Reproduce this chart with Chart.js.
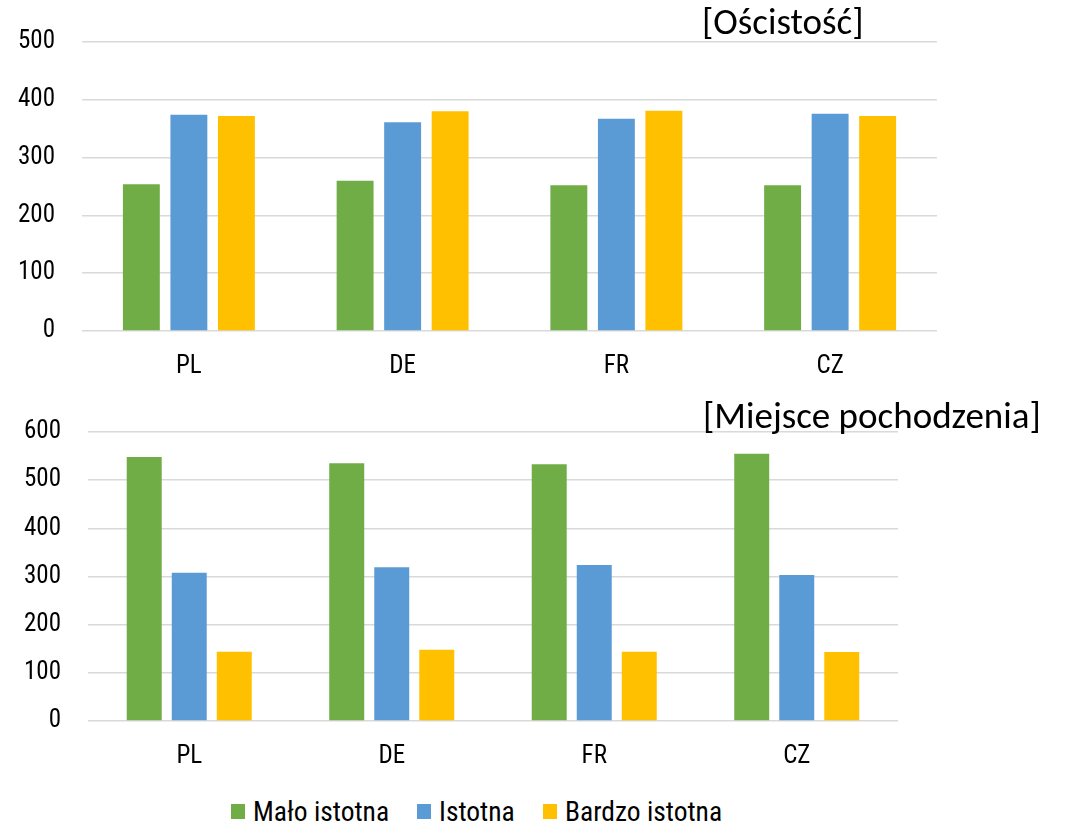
<!DOCTYPE html>
<html>
<head>
<meta charset="utf-8">
<script src="https://cdn.jsdelivr.net/npm/chart.js@4.4.0/dist/chart.umd.min.js"></script>
<style>
    body { margin: 0; background: #fff; }
    .page { position: relative; width: 1066px; height: 827px; overflow: hidden; }
    .box { position: absolute; left: 0; }
    .title { position: absolute; font-family: Carlito, 'Liberation Sans', sans-serif; font-size: 37px; line-height: 37px; color: #000; white-space: nowrap; }
    .legend { position: absolute; left: 0; top: 796px; width: 1066px; height: 31px; font-family: 'Liberation Sans Narrow', 'Roboto Condensed', Roboto, sans-serif; font-size: 27.5px; color: #000; }
    .legend span.sq { display: inline-block; width: 14px; height: 15px; margin-right: 8px; }
    .legend span.item { position: absolute; top: 0; display: flex; align-items: center; white-space: nowrap; height: 31px; }
</style>
</head>
<body>
<div class="page">
    <div class="box" style="top:0"><canvas id="chart-top" width="1066" height="390"></canvas></div>
    <div class="box" style="top:390px"><canvas id="chart-bottom" width="1066" height="390"></canvas></div>
    <div class="title" style="left:702px; top:3px">[Ościstość]</div>
    <div class="title" style="left:703px; top:397px">[Miejsce pochodzenia]</div>
    <div class="legend"></div>
</div>
<script>
const countries = ['PL', 'DE', 'FR', 'CZ'];
const seriesNames = ['Mało istotna', 'Istotna', 'Bardzo istotna'];
const seriesColors = ['#70AD47', '#5B9BD5', '#FFC000'];

// Ościstość
const boneMalo = [254, 260, 252, 252];
const boneIstotna = [374, 361, 367, 376];
const boneBardzo = [372, 380, 381, 372];

// Miejsce pochodzenia
const originMalo = [548, 535, 533, 555];
const originIstotna = [308, 319, 324, 303];
const originBardzo = [144, 148, 144, 143];

const tickFont = { family: "'Liberation Sans Narrow', 'Roboto Condensed', Roboto, sans-serif", size: 25 };
const legendLeft = [231, 417, 543];

function makeDatasets(values) {
    const sets = [];
    for (let i = 0; i < values.length; i++) {
        sets.push({
            label: seriesNames[i],
            data: values[i],
            backgroundColor: seriesColors[i],
            borderWidth: 0,
            categoryPercentage: 0.667,
            barPercentage: 0.777
        });
    }
    return sets;
}

function createChart(canvasId, values, yMax, left, right) {
    return new Chart(document.getElementById(canvasId), {
        type: 'bar',
        data: { labels: countries, datasets: makeDatasets(values) },
        options: {
            responsive: false,
            animation: false,
            devicePixelRatio: 1,
            layout: { padding: { left: 0, right: 1066 - right, top: 40, bottom: 0 } },
            plugins: { legend: { display: false }, tooltip: { enabled: false } },
            scales: {
                x: {
                    grid: { display: false, drawTicks: false },
                    border: { display: false },
                    ticks: { font: tickFont, color: '#000', padding: 21 },
                    afterFit: function (scale) { scale.height = 59; }
                },
                y: {
                    min: 0,
                    max: yMax,
                    ticks: { stepSize: 100, font: tickFont, color: '#000', padding: 27 },
                    grid: { color: '#D9D9D9', lineWidth: 1.5, drawTicks: false },
                    border: { display: false },
                    afterFit: function (scale) { scale.width = left; }
                }
            }
        }
    });
}

createChart('chart-top', [boneMalo, boneIstotna, boneBardzo], 500, 82, 937);
createChart('chart-bottom', [originMalo, originIstotna, originBardzo], 600, 88, 898);

// legenda
const legendElement = document.querySelector('.legend');
for (let i = 0; i < seriesNames.length; i++) {
    legendElement.innerHTML += `<span class="item" style="left:${legendLeft[i]}px"><span class="sq" style="background:${seriesColors[i]}"></span>${seriesNames[i]}</span>`;
}
</script>
</body>
</html>
